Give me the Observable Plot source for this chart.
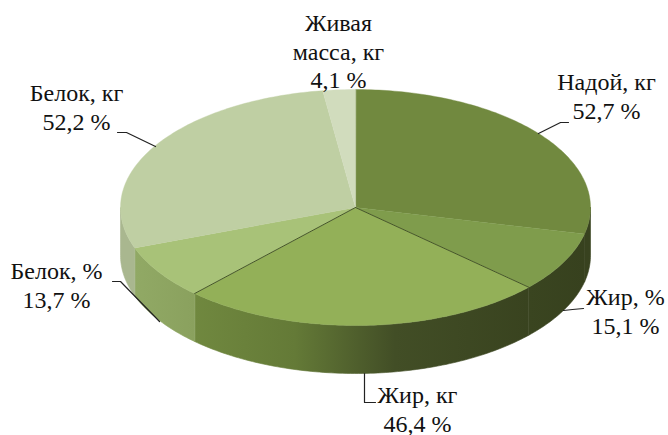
<!DOCTYPE html>
<html><head><meta charset="utf-8">
<script src="https://cdn.jsdelivr.net/npm/d3@7"></script>
<script src="https://cdn.jsdelivr.net/npm/@observablehq/plot@0.6"></script>
<style>html,body{margin:0;padding:0;background:#fff}svg{display:block}</style>
</head><body><div id="chart"></div>
<script>
// Data
const names = ["Надой, кг", "Жир, %", "Жир, кг", "Белок, %", "Белок, кг", "Живая\nмасса, кг"];
const shares = [52.7, 15.1, 46.4, 13.7, 52.2, 4.1];

// Appearance and layout (separate from data)
const topColors = ["#71893f", "#7f9c4c", "#93b058", "#a8c278", "#bfcfa3", "#d1dcbd"];
const wallStops = [
  [[0, "#38421f"], [1, "#38421f"]],
  [[0, "#3a4520"], [1, "#37411e"]],
  [[0, "#70883f"], [0.3, "#647a37"], [0.6, "#424e26"], [1, "#39431f"]],
  [[0, "#91a965"], [1, "#8aa15e"]],
  [[0, "#a9b78f"], [1, "#a9b78f"]],
  [[0, "#a9b78f"], [1, "#a9b78f"]]
];
const W = 668, H = 435, cx = 355, cy = 207, rx = 235, ry = 118, depth = 48;
const fx = px => (px - cx) / rx, fy = py => (cy - py) / ry;
const labelCenters = [[606, 95], [625, 310], [417, 408], [56, 284], [76, 106], [338, 50]];
const leaders = [
  [[538, 133], [560, 122], [568, 122]],
  [[563, 310], [572, 309], [583, 308]],
  [[364, 373], [364, 402], [375, 402]],
  [[112, 281], [120, 281], [159, 321]],
  [[117, 132], [126, 132], [155, 146]]
];

const total = d3.sum(shares);
const ends = d3.cumsum(shares).map(v => v / total * 2 * Math.PI);
const starts = [0, ...ends.slice(0, -1)];
const rim = a => ({x: Math.sin(a), y: Math.cos(a)});
const arc = (a0, a1) => {
  const n = Math.max(2, Math.ceil((a1 - a0) * 60));
  return d3.range(n + 1).map(i => rim(a0 + (a1 - a0) * i / n));
};
const drop = depth / ry;

const topFaces = shares.map((_, i) => [{x: 0, y: 0}, ...arc(starts[i], ends[i])]);
const walls = shares.map((_, i) => {
  const a0 = Math.max(starts[i], Math.PI / 2), a1 = Math.min(ends[i], 3 * Math.PI / 2);
  if (a1 <= a0) return null;
  const edge = arc(a0, a1);
  return [...edge, ...edge.slice().reverse().map(p => ({x: p.x, y: p.y - drop}))];
});
const darkEdges = [2, 3].map(i => [{x: 0, y: 0}, rim(starts[i])]);

const defs = () => {
  const ns = "http://www.w3.org/2000/svg";
  const d = document.createElementNS(ns, "defs");
  wallStops.forEach((stops, i) => {
    const g = document.createElementNS(ns, "linearGradient");
    g.setAttribute("id", "wall" + i);
    stops.forEach(([o, c]) => {
      const s = document.createElementNS(ns, "stop");
      s.setAttribute("offset", o);
      s.setAttribute("stop-color", c);
      g.appendChild(s);
    });
    d.appendChild(g);
  });
  return d;
};

const labelRows = names.map((n, i) => ({
  text: n + "\n" + String(shares[i]).replace(".", ",") + " %",
  x: fx(labelCenters[i][0]),
  y: fy(labelCenters[i][1])
}));

const chart = Plot.plot({
  width: W, height: H,
  margin: 0,
  style: {background: "#fff"},
  x: {domain: [fx(0), fx(W)], range: [0, W], axis: null},
  y: {domain: [fy(H), fy(0)], range: [H, 0], axis: null},
  marks: [
    defs,
    ...walls.flatMap((w, i) => w ? [Plot.line(w, {x: "x", y: "y", fill: `url(#wall${i})`, stroke: `url(#wall${i})`, strokeWidth: 0.6, curve: "linear-closed"})] : []),
    ...topFaces.map((f, i) => Plot.line(f, {x: "x", y: "y", fill: topColors[i], stroke: topColors[i], strokeWidth: 0.4, curve: "linear-closed"})),
    ...darkEdges.map(e => Plot.line(e, {x: "x", y: "y", stroke: "#46552a", strokeWidth: 1})),
    ...leaders.map(l => Plot.line(l.map(([a, b]) => ({x: fx(a), y: fy(b)})), {x: "x", y: "y", stroke: "#222", strokeWidth: 1.2, curve: "linear"})),
    Plot.text(labelRows, {x: "x", y: "y", text: "text", fontFamily: "Liberation Serif", fontSize: 24, lineHeight: 1.17, fill: "#111", textAnchor: "middle"})
  ]
});
document.getElementById("chart").appendChild(chart);
</script></body></html>
